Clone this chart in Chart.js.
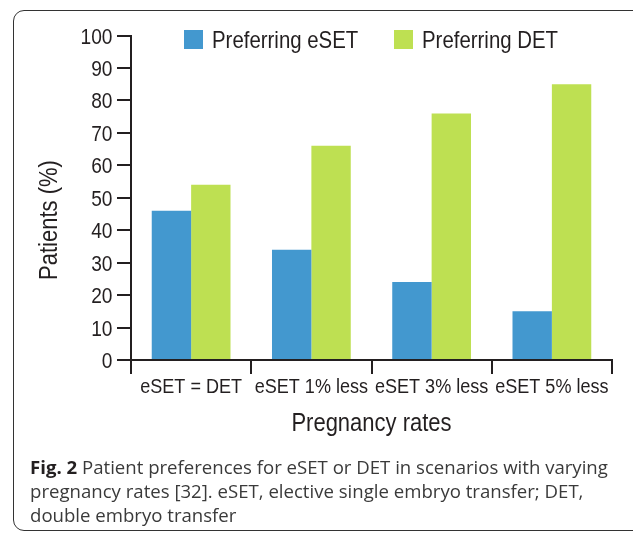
<!DOCTYPE html>
<html>
<head>
<meta charset="utf-8">
<script src="https://cdn.jsdelivr.net/npm/chart.js@4.4.1/dist/chart.umd.min.js"></script>
<style>
  html, body { margin: 0; padding: 0; background: #fff; }
  body { width: 633px; height: 534px; position: relative; overflow: hidden; }
  #frame { position: absolute; left: 13px; top: 10px; width: 700px; height: 521px;
           border: 1.6px solid #333; border-radius: 11px; box-sizing: border-box; }
  #chart { position: absolute; left: 0; top: 0; }
  #caption { position: absolute; left: 30px; top: 455px; width: 610px; white-space: nowrap;
             font-family: "Open Sans", "Noto Sans", sans-serif; font-size: 18.6px;
             line-height: 24px; color: #3a3a3a; }
  #caption b { color: #231f20; }
</style>
</head>
<body>
<div id="frame"></div>
<canvas id="chart" width="633" height="534"></canvas>
<div id="caption"><b>Fig. 2</b> Patient preferences for eSET or DET in scenarios with varying<br>pregnancy rates [32]. eSET, elective single embryo transfer; DET,<br>double embryo transfer</div>
<script>
const categories = ["eSET = DET", "eSET 1% less", "eSET 3% less", "eSET 5% less"];
const seriesNames = ["Preferring eSET", "Preferring DET"];
const eSETValues = [46, 34, 24, 15];
const DETValues = [54, 66, 76, 85];
const yTicks = [0, 10, 20, 30, 40, 50, 60, 70, 80, 90, 100];
const xTitle = "Pregnancy rates";
const yTitle = "Patients (%)";

const INK = "#231f20";
const FAMILY = '"Liberation Sans", Arial, sans-serif';

function drawNarrow(ctx, text, x, y, align, size, k) {
  ctx.save();
  ctx.translate(x, y);
  ctx.scale(k, 1);
  ctx.font = size + "px " + FAMILY;
  ctx.textAlign = align;
  ctx.textBaseline = "alphabetic";
  ctx.fillStyle = INK;
  ctx.fillText(text, 0, 0);
  ctx.restore();
}

const overlay = {
  id: "overlay",
  afterDraw(chart) {
    const ctx = chart.ctx;
    const ca = chart.chartArea;
    const xs = chart.scales.x, ys = chart.scales.y;
    // y tick labels
    ys.ticks.forEach((t, i) => {
      drawNarrow(ctx, String(t.value), ys.right - 18.5, ys.getPixelForTick(i) + 8, "right", 22, 0.87);
    });
    // x tick labels
    chart.data.labels.forEach((lab, i) => {
      drawNarrow(ctx, lab, xs.getPixelForTick(i), ca.bottom + 33, "center", 20.5, 0.88);
    });
    // legend
    const legendX = [184, 394];
    chart.data.datasets.forEach((ds, i) => {
      ctx.fillStyle = ds.backgroundColor;
      ctx.fillRect(legendX[i], 30, 19, 19);
      drawNarrow(ctx, ds.label, legendX[i] + 28, 48, "left", 24, 0.85);
    });
    // x title
    drawNarrow(ctx, xTitle, (ca.left + ca.right) / 2, 431, "center", 25, 0.88);
    // y title
    ctx.save();
    ctx.translate(57, 220);
    ctx.rotate(-Math.PI / 2);
    drawNarrow(ctx, yTitle, 0, 0, "center", 25, 0.88);
    ctx.restore();
  }
};

new Chart(document.getElementById("chart"), {
  type: "bar",
  data: {
    labels: categories,
    datasets: [
      { label: seriesNames[0], data: eSETValues, backgroundColor: "#4398cf",
        barPercentage: 1.0, categoryPercentage: 0.655 },
      { label: seriesNames[1], data: DETValues, backgroundColor: "#bee052",
        barPercentage: 1.0, categoryPercentage: 0.655 }
    ]
  },
  options: {
    responsive: false,
    devicePixelRatio: 1,
    animation: false,
    layout: { padding: { left: 0, right: 21, top: 35.5, bottom: 0 } },
    plugins: { legend: { display: false }, tooltip: { enabled: false }, title: { display: false } },
    scales: {
      x: {
        afterFit(scale) { scale.height = 174; },
        grid: { offset: true, drawOnChartArea: false, drawTicks: true, tickLength: 14,
                color: INK, lineWidth: 2 },
        border: { display: true, color: INK, width: 2 },
        ticks: { display: false, autoSkip: false }
      },
      y: {
        min: 0, max: 100,
        afterFit(scale) { scale.width = 131; },
        afterBuildTicks(scale) { scale.ticks = yTicks.map(v => ({ value: v })); },
        grid: { drawOnChartArea: false, drawTicks: true, tickLength: 14, color: INK, lineWidth: 2 },
        border: { display: true, color: INK, width: 2 },
        ticks: { display: false }
      }
    }
  },
  plugins: [overlay]
});
</script>
</body>
</html>
